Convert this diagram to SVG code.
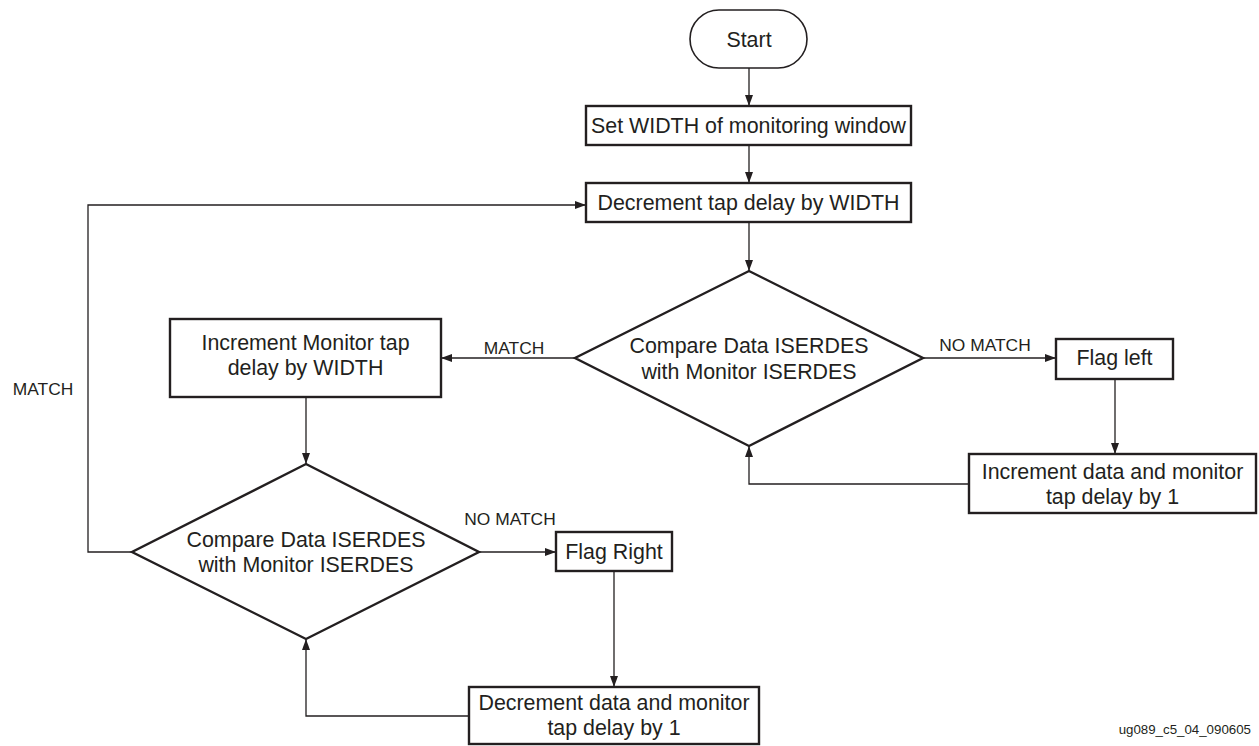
<svg xmlns="http://www.w3.org/2000/svg" width="1259" height="746" viewBox="0 0 1259 746">
<defs>
<marker id="ah" markerWidth="11" markerHeight="8" refX="11" refY="4" orient="auto" markerUnits="userSpaceOnUse">
<path d="M0,0 L11,4 L0,8 Z" fill="#231f20"/>
</marker>
<style>
.box{fill:#fff;stroke:#231f20;stroke-width:2.4}
.pill{fill:#fff;stroke:#231f20;stroke-width:1.6}
.t{font-family:"Liberation Sans",Arial,sans-serif;font-size:21.4px;fill:#231f20;text-anchor:middle}
.lb{font-family:"Liberation Sans",Arial,sans-serif;font-size:17.4px;fill:#231f20;text-anchor:middle}
.ft{font-family:"Liberation Sans",Arial,sans-serif;font-size:13.3px;fill:#231f20;text-anchor:end}
.c{fill:none;stroke:#231f20;stroke-width:1.3;marker-end:url(#ah)}
</style>
</defs>
<rect width="1259" height="746" fill="#fff"/>
<g id="connectors">
<path class="c" d="M749,68 V106"/>
<path class="c" d="M749,145 V183"/>
<path class="c" d="M749,222 V271"/>
<path class="c" d="M575,358 H441"/>
<path class="c" d="M923,358 H1056"/>
<path class="c" d="M1115,379 V454"/>
<path class="c" d="M969,484 H749 V446"/>
<path class="c" d="M306,397 V464"/>
<path class="c" d="M479,552 H556"/>
<path class="c" d="M614,571 V687"/>
<path class="c" d="M469,716 H306 V639"/>
<path class="c" d="M132,552 H88 V205 H586"/>
<text class="lb" x="514" y="354">MATCH</text>
<text class="lb" x="985" y="351">NO MATCH</text>
<text class="lb" x="510" y="525">NO MATCH</text>
<text class="lb" x="43" y="395">MATCH</text>
</g>
<g id="start">
<rect class="pill" x="690" y="10" width="117" height="58" rx="29" ry="29"/>
<text class="t" x="749" y="46.5">Start</text>
</g>
<g id="set-width">
<rect class="box" x="586" y="106" width="325" height="39"/>
<text class="t" x="748.5" y="133">Set WIDTH of monitoring window</text>
</g>
<g id="decrement-width">
<rect class="box" x="586" y="183" width="325" height="39"/>
<text class="t" x="748.5" y="210">Decrement tap delay by WIDTH</text>
</g>
<g id="compare1">
<polygon class="box" points="749,271 923,358 749,446 575,358"/>
<text class="t" x="749" y="352.5">Compare Data ISERDES</text>
<text class="t" x="749" y="378.5">with Monitor ISERDES</text>
</g>
<g id="increment-monitor">
<rect class="box" x="170" y="319" width="271" height="78"/>
<text class="t" x="305.5" y="350">Increment Monitor tap</text>
<text class="t" x="305.5" y="375">delay by WIDTH</text>
</g>
<g id="flag-left">
<rect class="box" x="1056" y="339" width="117" height="40"/>
<text class="t" x="1114.5" y="365">Flag left</text>
</g>
<g id="increment-data">
<rect class="box" x="969" y="454" width="287" height="59"/>
<text class="t" x="1112.5" y="479">Increment data and monitor</text>
<text class="t" x="1112.5" y="504">tap delay by 1</text>
</g>
<g id="compare2">
<polygon class="box" points="306,464 479,552 306,639 132,552"/>
<text class="t" x="306" y="546.5">Compare Data ISERDES</text>
<text class="t" x="306" y="572">with Monitor ISERDES</text>
</g>
<g id="flag-right">
<rect class="box" x="556" y="532" width="116" height="39"/>
<text class="t" x="614" y="559">Flag Right</text>
</g>
<g id="decrement-data">
<rect class="box" x="469" y="687" width="290" height="57"/>
<text class="t" x="614" y="710">Decrement data and monitor</text>
<text class="t" x="614" y="735">tap delay by 1</text>
</g>
<text class="ft" x="1251" y="734">ug089_c5_04_090605</text>
</svg>
